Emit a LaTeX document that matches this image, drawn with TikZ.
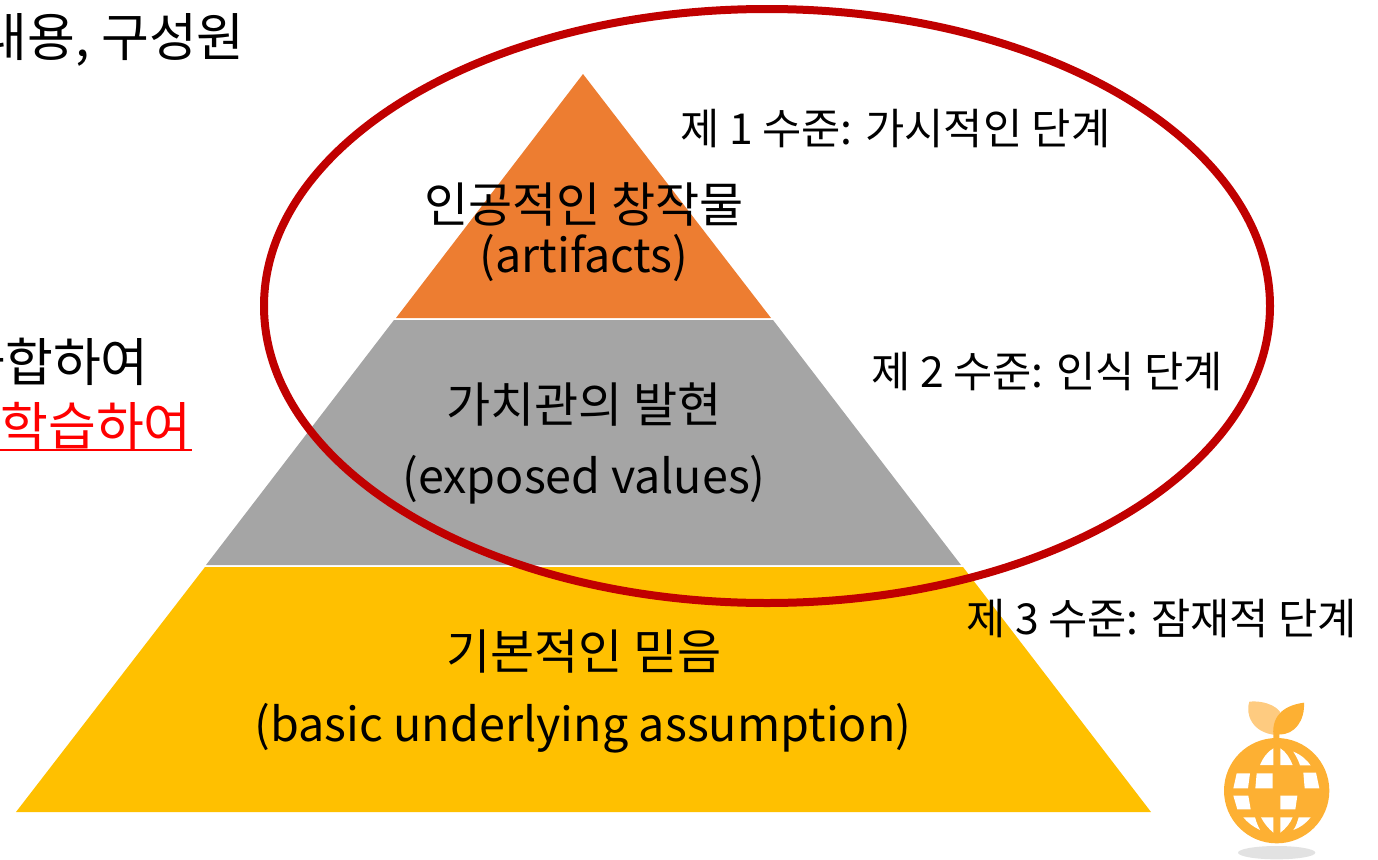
\documentclass[tikz,border=0pt]{standalone}
\usepackage{fontspec}
\setmainfont{Noto Sans CJK KR}
\definecolor{artifactorange}{HTML}{ED7D31}
\definecolor{valuegray}{HTML}{A5A5A5}
\definecolor{beliefgold}{HTML}{FFC000}
\definecolor{ringred}{HTML}{C00000}
\definecolor{logoorange}{HTML}{FDB033}
\definecolor{logoleaf}{HTML}{FECB80}
\definecolor{logoshadow}{HTML}{E2E2E2}
\begin{document}
\begin{tikzpicture}[
	x=0.75pt, y=-0.75pt,
	layer/.style={draw=none},
	title/.style={inner sep=0pt, anchor=base, font=\fontsize{36}{36}\selectfont},
	titlelatin/.style={inner sep=0pt, anchor=base, font=\fontsize{35}{35}\selectfont},
	level/.style={inner sep=0pt, anchor=base west, font=\fontsize{32}{32}\selectfont},
	side/.style={inner sep=0pt, anchor=base east, font=\fontsize{39}{39}\selectfont},
	ring/.style={draw=ringred, line width=6pt},
	]
	\useasboundingbox (0,0) rectangle (1378,860);
	\clip (0,0) rectangle (1378,860);

	% pyramid
	\fill [layer, artifactorange] (583,74) -- (771,318) -- (396,318) -- cycle;
	\fill [layer, valuegray] (394,320) -- (773,320) -- (961,565) -- (206,565) -- cycle;
	\fill [layer, beliefgold] (205,567) -- (963,567) -- (1151,812) -- (16,812) -- cycle;

	\node [title] (artko) at (584,222) {인공적인 창작물};
	\node [titlelatin] (arten) at (584,272) {(artifacts)};
	\node [title] (valko) at (584,422) {가치관의 발현};
	\node [titlelatin] (valen) at (584,493) {(exposed values)};
	\node [title] (basko) at (584,669) {기본적인 믿음};
	\node [titlelatin] (basen) at (583,741) {(basic underlying assumption)};

	% levels
	\node [level] (lvla) at (680,144) {제 1 수준: 가시적인 단계};
	\node [level] (lvlb) at (871,387) {제 2 수준: 인식 단계};
	\node [level] (lvlc) at (966,634) {제 3 수준: 잠재적 단계};

	% cut off text on the left
	\node [side] (txta) at (245,56) {내용, 구성원};
	\node [side] (txtb) at (149,381) {화합하여};
	\node [side, text=red] (txtc) at (192,445) {학습하여};
	\draw [red, line width=2pt] (txtc.base west |- 0,450) -- (txtc.base east |- 0,450);

	\draw [ring] (767,306) ellipse [x radius=503, y radius=297];

	% logo
	\begin{scope}[shift={(1180,680)}, x=0.25pt, y=-0.25pt]
		\fill [logoshadow] (290,518) ellipse [x radius=116, y radius=20];
		\fill [logoleaf] (290,165) .. controls (215,160) and (195,100) .. (208,65) .. controls (260,60) and (305,85) .. (305,110) -- cycle;
		\fill [logoorange] (280,165) .. controls (275,100) and (320,75) .. (372,68) .. controls (375,120) and (345,165) .. (298,163) -- (298,180) -- (280,180) -- cycle;
		\fill [logoorange] (290,332) circle [radius=158];
		\foreach \hole in {
			{(240,255) -- (280,255) -- (280,205) .. controls (262,215) and (248,235) .. (240,255)},
			{(301,205) -- (301,255) -- (338,255) .. controls (330,235) and (318,215) .. (301,205)},
			{(340,215) .. controls (365,225) and (380,240) .. (392,256) -- (360,256) .. controls (355,240) and (348,228) .. (340,215)},
			{(170,280) -- (210,280) -- (204,325) -- (160,325)},
			{(230,280) -- (278,280) -- (278,325) -- (226,325)},
			{(370,278) -- (408,278) -- (418,325) -- (374,325)},
			{(160,347) -- (205,347) -- (212,388) -- (172,388)},
			{(301,347) -- (352,347) -- (346,388) -- (301,388)},
			{(190,412) -- (225,412) .. controls (230,430) and (235,440) .. (240,450) .. controls (220,440) and (205,430) .. (190,412)},
			{(243,412) -- (280,412) -- (280,458) .. controls (265,445) and (252,430) .. (243,412)},
			{(301,412) -- (338,412) .. controls (330,430) and (318,445) .. (301,458)},
			{(356,412) -- (392,412) .. controls (378,430) and (360,443) .. (340,450) .. controls (348,440) and (352,425) .. (356,412)}
		} {
			\fill [white] \hole -- cycle;
		}
	\end{scope}
\end{tikzpicture}
\end{document}
